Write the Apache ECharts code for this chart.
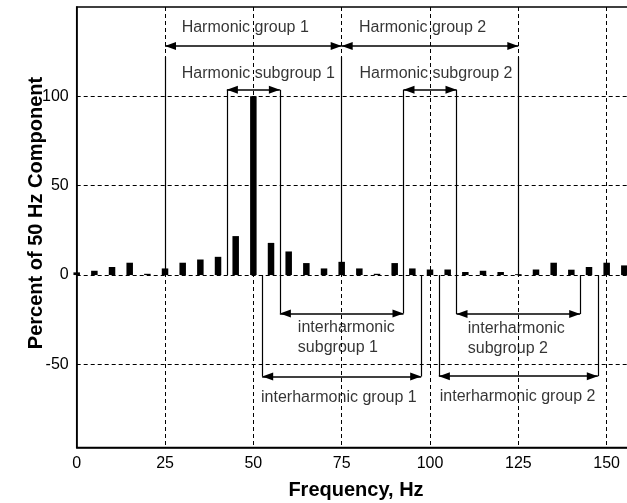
<!DOCTYPE html>
<html>
<head>
<meta charset="utf-8">
<script src="https://cdn.jsdelivr.net/npm/echarts@6/dist/echarts.min.js"></script>
<style>
  html, body { margin: 0; padding: 0; background: #fff; }
  #chart { width: 627px; height: 503px; }
</style>
</head>
<body>
<div id="chart"></div>
<script>
// Spectrum: frequency bins (Hz) and their amplitude in percent of the 50 Hz component
const freqHz = [0, 5, 10, 15, 20, 25, 30, 35, 40, 45, 50, 55, 60, 65, 70, 75,
                80, 85, 90, 95, 100, 105, 110, 115, 120, 125, 130, 135, 140, 145, 150, 155];
const percentOf50Hz = [1.5, 2.4, 4.5, 6.9, 0.7, 3.7, 6.9, 8.7, 10.2, 21.8, 100, 18, 13.2, 6.7, 3.7, 7.4,
                       3.7, 0.7, 6.7, 3.7, 3.1, 3.1, 1.7, 2.4, 1.7, 0.5, 3.1, 6.9, 3.0, 4.5, 6.9, 5.4];

// Axis ticks
const xTickValues = [0, 25, 50, 75, 100, 125, 150];
const yTickValues = [-50, 0, 50, 100];

// Group / subgroup boundaries: [frequency, from, to] in percent units
const boundaryLines = [
  [25, 0, 122], [75, 0, 122], [125, 0, 122],
  [42.5, 0, 103.7], [57.5, -21.5, 103.7], [92.5, -21.5, 103.7], [107.5, -21.8, 103.7],
  [142.5, -21.8, 0],
  [52.5, -56.8, 0], [97.5, -56.8, 0], [102.5, -56.6, 0], [147.5, -56.6, 0]
];

// Span arrows: [from Hz, to Hz, level]
const spanArrows = [
  [25, 75, 128.2], [75, 125, 128.2],
  [42.5, 57.5, 103.7], [92.5, 107.5, 103.7],
  [57.5, 92.5, -21.5], [107.5, 142.5, -21.8],
  [52.5, 97.5, -56.8], [102.5, 147.5, -56.6]
];

// Span captions: [Hz, level, text, alignment]
const spanCaptions = [
  [47.7, 138.5, 'Harmonic group 1', 'center'],
  [97.9, 138.5, 'Harmonic group 2', 'center'],
  [51.4, 113, 'Harmonic subgroup 1', 'center'],
  [101.7, 113, 'Harmonic subgroup 2', 'center'],
  [62.6, -34.8, 'interharmonic\nsubgroup 1', 'left'],
  [110.7, -35.7, 'interharmonic\nsubgroup 2', 'left'],
  [74.2, -68.4, 'interharmonic group 1', 'center'],
  [124.8, -67.9, 'interharmonic group 2', 'center']
];

const FONT = 'Liberation Sans, Arial, sans-serif';
const gridDash = { color: '#000', width: 1, type: [4, 3] };
const ARROW_LEN = 11;

const chart = echarts.init(document.getElementById('chart'), null, { renderer: 'canvas' });

chart.setOption({
  animation: false,
  backgroundColor: '#fff',
  grid: {
    left: 76.7, top: 7, width: 565.3, height: 440.5,
    containLabel: false, outerBoundsMode: 'none',
    show: true, borderColor: '#000', borderWidth: 1.5, backgroundColor: 'transparent'
  },
  xAxis: {
    type: 'value', min: 0, max: 160, interval: 25,
    axisLine: { show: true, onZero: false, lineStyle: { color: '#000', width: 1.5 } },
    axisTick: { show: false },
    splitLine: { show: true, lineStyle: gridDash },
    axisLabel: {
      color: '#000', fontFamily: FONT, fontSize: 16, margin: 8,
      formatter: v => (xTickValues.indexOf(v) >= 0 ? String(v) : '')
    }
  },
  yAxis: {
    type: 'value', min: -96.5, max: 150,
    axisLine: { show: true, onZero: false, lineStyle: { color: '#000', width: 1.5 } },
    axisTick: { show: false, customValues: yTickValues },
    splitLine: { show: false },
    axisLabel: {
      color: '#000', fontFamily: FONT, fontSize: 16, margin: 8,
      customValues: yTickValues
    }
  },
  graphic: [
    {
      type: 'text', x: 36, y: 213, rotation: Math.PI / 2,
      style: { text: 'Percent of 50 Hz Component', font: 'bold 20px ' + FONT, fill: '#000',
               align: 'center', verticalAlign: 'middle' }
    },
    {
      type: 'text', x: 356, y: 490,
      style: { text: 'Frequency, Hz', font: 'bold 20px ' + FONT, fill: '#000',
               align: 'center', verticalAlign: 'middle' }
    }
  ],
  series: [
    {
      // horizontal dashed grid at the y ticks
      type: 'line', data: [], silent: true,
      markLine: {
        silent: true, symbol: 'none', label: { show: false },
        lineStyle: gridDash,
        data: yTickValues.map(v => ({ yAxis: v }))
      }
    },
    {
      type: 'bar', name: 'spectrum', barWidth: 6.5,
      itemStyle: { color: '#000' },
      data: freqHz.map((f, i) => [f, percentOf50Hz[i]])
    },
    {
      // group boundaries
      type: 'line', data: [], silent: true, z: 5,
      markLine: {
        silent: true, symbol: 'none', label: { show: false },
        lineStyle: { color: '#000', width: 1.2, type: 'solid' },
        data: boundaryLines.map(b => [{ coord: [b[0], b[1]] }, { coord: [b[0], b[2]] }])
      }
    },
    {
      // span arrows, tips placed on the boundary lines
      type: 'line', data: [], silent: true, z: 6,
      markLine: {
        silent: true, symbol: ['triangle', 'triangle'], symbolSize: [8, ARROW_LEN],
        symbolOffset: [[0, ARROW_LEN / 2], [0, ARROW_LEN / 2]],
        label: { show: false },
        lineStyle: { color: '#000', width: 1.5, type: 'solid' },
        itemStyle: { color: '#000' },
        data: spanArrows.map(a => [{ coord: [a[0], a[2]] }, { coord: [a[1], a[2]] }])
      }
    },
    {
      type: 'scatter', silent: true, symbolSize: 0, z: 7,
      data: spanCaptions.map(c => ({
        value: [c[0], c[1]],
        label: {
          show: true, position: 'inside', formatter: c[2], align: c[3],
          verticalAlign: 'middle', color: '#000', fontFamily: FONT, fontSize: 16, lineHeight: 20
        }
      }))
    }
  ]
});
</script>
</body>
</html>
